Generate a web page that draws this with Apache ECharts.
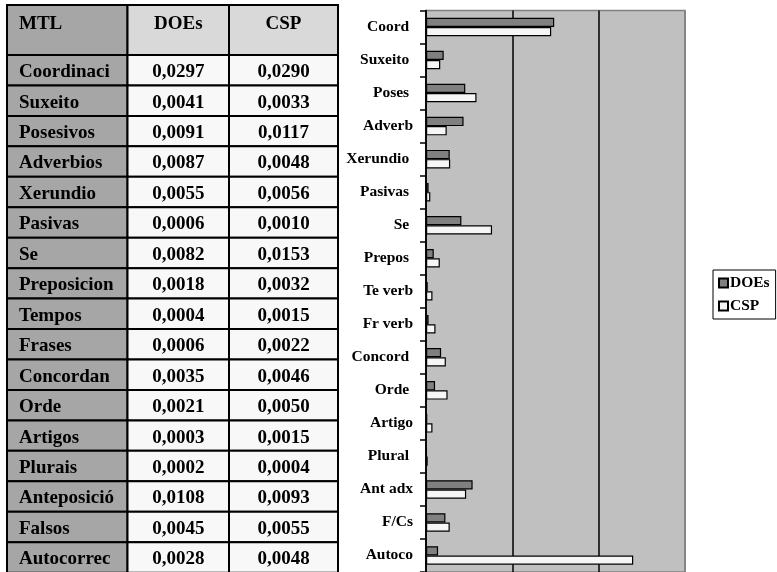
<!DOCTYPE html>
<html>
<head>
<meta charset="utf-8">
<script src="https://cdn.jsdelivr.net/npm/echarts@6/dist/echarts.min.js"></script>
<style>
html,body{margin:0;padding:0;background:#fff;}
#main{width:777px;height:572px;}
</style>
</head>
<body>
<div id="main"></div>
<script>
// ---- data ----
var tableHeader = ['MTL', 'DOEs', 'CSP'];
var tableNames = ['Coordinaci','Suxeito','Posesivos','Adverbios','Xerundio','Pasivas','Se','Preposicion','Tempos','Frases','Concordan','Orde','Artigos','Plurais','Anteposició','Falsos','Autocorrec'];
var tableDOEs = ['0,0297','0,0041','0,0091','0,0087','0,0055','0,0006','0,0082','0,0018','0,0004','0,0006','0,0035','0,0021','0,0003','0,0002','0,0108','0,0045','0,0028'];
var tableCSP = ['0,0290','0,0033','0,0117','0,0048','0,0056','0,0010','0,0153','0,0032','0,0015','0,0022','0,0046','0,0050','0,0015','0,0004','0,0093','0,0055','0,0048'];

var categories = ['Coord ','Suxeito ','Poses ','Adverb','Xerundio ','Pasivas ','Se ','Prepos ','Te verb','Fr verb','Concord ','Orde ','Artigo','Plural ','Ant adx','F/Cs','Autoco'];
var seriesDOEs = [0.0297,0.0041,0.0091,0.0087,0.0055,0.0006,0.0082,0.0018,0.0004,0.0006,0.0035,0.0021,0.0003,0.0002,0.0108,0.0045,0.0028];
var seriesCSP = [0.0290,0.0033,0.0117,0.0048,0.0056,0.0010,0.0153,0.0032,0.0015,0.0022,0.0046,0.0050,0.0015,0.0004,0.0093,0.0055,0.0480];
var xTicks = [0, 0.02, 0.04, 0.06];

// ---- table graphics ----
var FONT = "'Liberation Serif','Times New Roman',serif";
var colX = [7, 127.5, 229, 338];
var headTop = 5, headBottom = 55, rowH = 30.45;
var gfx = [];
function cell(x0, y0, x1, y1, fill) {
  gfx.push({type:'rect', shape:{x:x0, y:y0, width:x1-x0, height:y1-y0},
    style:{fill:fill, stroke:'#000', lineWidth:2}, z:1});
}
function txt(t, x, y, align) {
  gfx.push({type:'text', x:x, y:y, z:2, style:{text:t, fill:'#000',
    font:'bold 19px ' + FONT, textAlign:align, textVerticalAlign:'middle'}});
}
// header
cell(colX[0], headTop, colX[1], headBottom, '#a6a6a6');
cell(colX[1], headTop, colX[2], headBottom, '#d9d9d9');
cell(colX[2], headTop, colX[3], headBottom, '#d9d9d9');
txt(tableHeader[0], 19, 24, 'left');
txt(tableHeader[1], (colX[1]+colX[2])/2, 24, 'center');
txt(tableHeader[2], (colX[2]+colX[3])/2, 24, 'center');
for (var i = 0; i < tableNames.length; i++) {
  var y0 = headBottom + i*rowH, y1 = y0 + rowH, yc = (y0+y1)/2 + 2;
  cell(colX[0], y0, colX[1], y1, '#a6a6a6');
  cell(colX[1], y0, colX[2], y1, '#f8f8f8');
  cell(colX[2], y0, colX[3], y1, '#f8f8f8');
  txt(tableNames[i], 19, yc, 'left');
  txt(tableDOEs[i], (colX[1]+colX[2])/2, yc, 'center');
  txt(tableCSP[i], (colX[2]+colX[3])/2, yc, 'center');
}

var chart = echarts.init(document.getElementById('main'), null, {renderer:'canvas'});
chart.setOption({
  animation: false,
  backgroundColor: '#fff',
  graphic: gfx,
  grid: {
    left: 426, top: 10.5, width: 259, height: 563,
    show: true, backgroundColor: '#c0c0c0', borderColor: '#808080', borderWidth: 1.5
  },
  legend: {
    left: 713, top: 270, orient: 'vertical',
    data: ['DOEs', 'CSP'],
    icon: 'rect', itemWidth: 9, itemHeight: 9, itemGap: 7,
    padding: [5, 6, 5, 5],
    borderColor: '#000', borderWidth: 1, backgroundColor: '#fff',
    textStyle: {fontFamily: FONT, fontWeight: 'bold', fontSize: 15.5, color: '#000', padding: [0,0,0,-3]}
  },
  xAxis: {
    type: 'value', min: xTicks[0], max: xTicks[xTicks.length-1], interval: xTicks[1]-xTicks[0],
    axisLabel: {show: false}, axisTick: {show: false}, axisLine: {show: false},
    splitLine: {show: true, lineStyle: {color: ['#000','#000','#000','#808080'], width: 1.5}}
  },
  yAxis: {
    type: 'category', inverse: true, data: categories,
    axisLine: {show: true, lineStyle: {color: '#000', width: 1.5}},
    axisTick: {show: true, length: 6, lineStyle: {color: '#000', width: 1.5}},
    axisLabel: {fontFamily: FONT, fontWeight: 'bold', fontSize: 15.5, color: '#000', margin: 13, padding: [3,0,0,0]}
  },
  series: [
    {name: 'DOEs', type: 'bar', data: seriesDOEs, barGap: '0%', barCategoryGap: '44%',
     itemStyle: {color: '#808080', borderColor: '#000', borderWidth: 1.2}},
    {name: 'CSP', type: 'bar', data: seriesCSP, barGap: '0%', barCategoryGap: '44%',
     itemStyle: {color: '#f6f6f6', borderColor: '#000', borderWidth: 1.2}}
  ]
});
</script>
</body>
</html>
